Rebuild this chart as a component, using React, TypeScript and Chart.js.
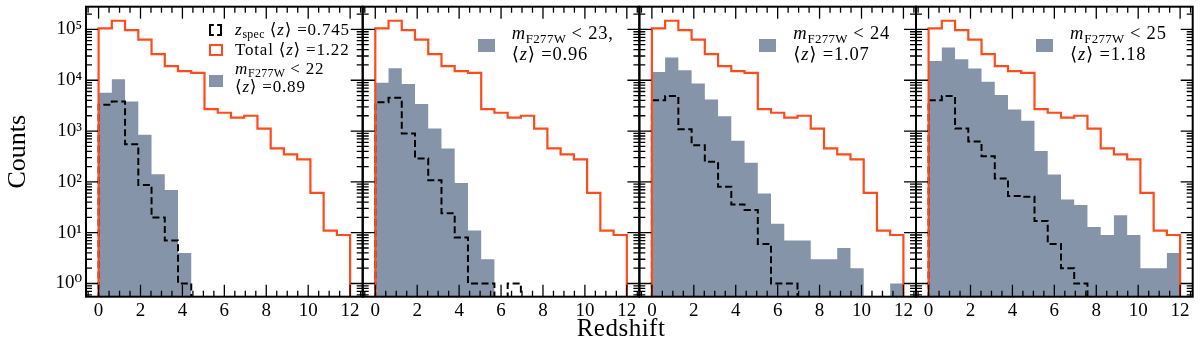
import React, { useEffect, useRef } from 'react';
import { Chart, registerables } from 'chart.js';

Chart.register(...registerables);

// ---------------- data ----------------
const BIN_EDGES = [
  0, 0.632, 1.263, 1.895, 2.526, 3.158, 3.789, 4.421, 5.053, 5.684,
  6.316, 6.947, 7.579, 8.211, 8.842, 9.474, 10.105, 10.737, 11.368, 12,
];

const TOTAL_COUNTS = [105000, 148000, 97000, 63000, 32700, 19000, 15100, 14000, 2700, 2290, 1830, 2000, 1120, 456, 348, 277, 61, 11, 9];

const PHOT_COUNTS_22 = [5700, 10400, 3800, 845, 142, 69, 4, 0, 0, 0, 0, 0, 0, 0, 0, 0, 0, 0, 0];
const PHOT_COUNTS_23 = [8900, 17300, 8400, 3400, 1120, 454, 95, 11, 3, 0, 0, 0, 0, 0, 0, 0, 0, 0, 0];
const PHOT_COUNTS_24 = [14600, 28000, 15800, 8600, 4200, 1960, 641, 237, 59, 15, 7, 7, 3, 3, 5, 2, 0, 0, 1];
const PHOT_COUNTS_25 = [23800, 44000, 26000, 17000, 9300, 5100, 2660, 1590, 407, 140, 45, 35, 13, 9, 22, 9, 2, 2, 4];

const SPEC_COUNTS_22 = [3300, 3800, 553, 87, 20, 7, 1, 0, 0, 0, 0, 0, 0, 0, 0, 0, 0, 0, 0];
const SPEC_COUNTS_23 = [3700, 4500, 897, 289, 108, 24, 8, 1, 1, 0, 1, 0, 0, 0, 0, 0, 0, 0, 0];
const SPEC_COUNTS_24 = [4060, 4900, 1090, 527, 248, 80, 36, 28, 6, 1, 1, 0, 0, 0, 0, 0, 0, 0, 0];
const SPEC_COUNTS_25 = [4060, 4900, 1120, 624, 321, 117, 53, 51, 17, 6, 2, 1, 0, 0, 0, 0, 0, 0, 0];

const MAG_CUTS = ['22', '23,', '24', '25'];
const MEAN_Z = ['0.89', '0.96', '1.07', '1.18'];
const SPEC_MEAN_Z = '0.745';
const TOTAL_MEAN_Z = '1.22';

const X_MAJOR_TICKS = [0, 2, 4, 6, 8, 10, 12];
const Y_DECADES = [1, 10, 100, 1000, 10000, 100000];
const SUP = ['\u2070', '\u00b9', '\u00b2', '\u00b3', '\u2074', '\u2075'];

const PHOT_SETS = [PHOT_COUNTS_22, PHOT_COUNTS_23, PHOT_COUNTS_24, PHOT_COUNTS_25];
const SPEC_SETS = [SPEC_COUNTS_22, SPEC_COUNTS_23, SPEC_COUNTS_24, SPEC_COUNTS_25];

// ---------------- style / layout ----------------
const FONT = "'Liberation Serif', 'DejaVu Serif', serif";
const COLOR_TOTAL = '#ff4a1a';
const COLOR_PHOT = '#8694aa';
const W = 1200;
const H = 352;
const PANEL_LEFT = [86, 362.7, 639.3, 916];
const PANEL_WIDTH = 276.7;
const PLOT_TOP = 6.7;
const PLOT_BOTTOM = 296.7;
const X_MIN = -0.6;
const X_MAX = 12.6;
const Y_MIN = 0.55;
const Y_MAX = 2.8e5;
const BELOW = 1e-3;

function histPoints(counts: number[]) {
  const v = (c: number) => (c > 0 ? c : BELOW);
  const last = BIN_EDGES.length - 1;
  const pts: { x: number; y: number }[] = [{ x: BIN_EDGES[0], y: BELOW }];
  counts.forEach((c, i) => pts.push({ x: BIN_EDGES[i], y: v(c) }));
  pts.push({ x: BIN_EDGES[last], y: v(counts[counts.length - 1]) });
  pts.push({ x: BIN_EDGES[last], y: BELOW });
  return pts;
}

const frameTicksPlugin = {
  id: 'frameTicks',
  afterDatasetsDraw(chart: any) {
    const { ctx, chartArea: a } = chart;
    const x = chart.scales.x;
    const y = chart.scales.y;
    ctx.save();
    ctx.strokeStyle = '#000';
    ctx.lineWidth = 1.3;
    ctx.beginPath();
    for (let v = -0.5; v <= 12.5; v += 0.5) {
      const px = x.getPixelForValue(v);
      const len = X_MAJOR_TICKS.includes(v) ? 12 : 6;
      ctx.moveTo(px, a.bottom);
      ctx.lineTo(px, a.bottom - len);
      ctx.moveTo(px, a.top);
      ctx.lineTo(px, a.top + len);
    }
    for (let k = -1; k <= 5; k++) {
      for (let m = 1; m <= 9; m++) {
        const v = m * Math.pow(10, k);
        if (v < Y_MIN || v > Y_MAX) continue;
        const py = y.getPixelForValue(v);
        const len = m === 1 ? 12 : 6;
        ctx.moveTo(a.left, py);
        ctx.lineTo(a.left + len, py);
        ctx.moveTo(a.right, py);
        ctx.lineTo(a.right - len, py);
      }
    }
    ctx.stroke();
    ctx.lineWidth = 2;
    ctx.strokeRect(a.left, a.top, a.right - a.left, a.bottom - a.top);
    ctx.restore();
  },
};

function zeroPad(s: any) {
  s.paddingTop = 0;
  s.paddingBottom = 0;
  s.paddingLeft = 0;
  s.paddingRight = 0;
}

function Panel({ index }: { index: number }) {
  const ref = useRef<HTMLCanvasElement>(null);
  useEffect(() => {
    const canvas = ref.current;
    if (!canvas) return;
    const left = PANEL_LEFT[index];
    const right = left + PANEL_WIDTH;
    const first = index === 0;
    const chart = new Chart(canvas, {
      type: 'line',
      data: {
        datasets: [
          {
            label: 'Total',
            data: histPoints(TOTAL_COUNTS),
            stepped: 'before',
            borderColor: COLOR_TOTAL,
            borderWidth: 2.2,
            pointRadius: 0,
            fill: false,
            order: 0,
          },
          {
            label: 'spec',
            data: histPoints(SPEC_SETS[index]),
            stepped: 'before',
            borderColor: '#000',
            borderWidth: 2,
            borderDash: [7, 3.5],
            pointRadius: 0,
            fill: false,
            order: 1,
          },
          {
            label: 'phot',
            data: histPoints(PHOT_SETS[index]),
            stepped: 'before',
            borderColor: 'rgba(0,0,0,0)',
            borderWidth: 0,
            backgroundColor: COLOR_PHOT,
            fill: 'start',
            pointRadius: 0,
            order: 2,
          },
        ],
      } as any,
      options: {
        animation: false,
        responsive: false,
        devicePixelRatio: 1,
        layout: {
          autoPadding: false,
          padding: { left: first ? 0 : left, right: W - right, top: PLOT_TOP, bottom: 0 },
        },
        plugins: { legend: { display: false }, tooltip: { enabled: false } },
        scales: {
          x: {
            type: 'linear',
            min: X_MIN,
            max: X_MAX,
            grid: { display: false, drawTicks: false },
            border: { display: false },
            afterBuildTicks: (s: any) => {
              s.ticks = X_MAJOR_TICKS.map((v) => ({ value: v }));
            },
            afterFit: (s: any) => {
              s.height = H - PLOT_BOTTOM;
              zeroPad(s);
            },
            ticks: {
              font: { family: FONT, size: 19 },
              color: '#000',
              padding: 3,
              maxRotation: 0,
              autoSkip: false,
              callback: (v: any) => String(v),
            },
          },
          y: {
            type: 'logarithmic',
            min: Y_MIN,
            max: Y_MAX,
            grid: { display: false, drawTicks: false },
            border: { display: false },
            afterBuildTicks: (s: any) => {
              s.ticks = Y_DECADES.map((v) => ({ value: v }));
            },
            afterFit: (s: any) => {
              s.width = first ? PANEL_LEFT[0] : 0;
              zeroPad(s);
            },
            ticks: {
              display: first,
              font: { family: FONT, size: 19 },
              color: '#000',
              padding: 4,
              callback: (v: any) => '10' + SUP[Math.round(Math.log10(Number(v)))],
            },
            title: {
              display: first,
              text: 'Counts',
              font: { family: FONT, size: 26 },
              color: '#000',
              padding: { top: 3, bottom: 0 },
            },
          },
        },
      } as any,
      plugins: [frameTicksPlugin],
    });
    return () => chart.destroy();
  }, [index]);
  return (
    <canvas
      ref={ref}
      width={W}
      height={H}
      style={{ position: 'absolute', left: 0, top: 0, width: W, height: H }}
    />
  );
}

function TextLine({ left, baseline, size, children }: { left: number; baseline: number; size: number; children: any }) {
  return (
    <div
      style={{
        position: 'absolute',
        left,
        top: baseline - 0.8375 * size,
        fontFamily: FONT,
        fontSize: size,
        lineHeight: `${size}px`,
        letterSpacing: '0.8px',
        whiteSpace: 'nowrap',
        color: '#000',
      }}
    >
      {children}
    </div>
  );
}

const Sub = ({ children }: { children: any }) => (
  <span style={{ fontSize: '0.7em', verticalAlign: '-0.28em', lineHeight: 0, letterSpacing: '0.3px' }}>{children}</span>
);

function Legends() {
  const L2_HANDLE = [0, 477.7, 759, 1035.7];
  const L2_TEXT = [0, 511.7, 793.3, 1070];
  return (
    <>
      {/* panel 1 legend */}
      <div style={{ position: 'absolute', left: 208.5, top: 24, width: 13, height: 11.5, border: '2px dashed #000', boxSizing: 'border-box' }} />
      <div style={{ position: 'absolute', left: 208.5, top: 44, width: 14.5, height: 11.5, border: `2px solid ${COLOR_TOTAL}`, boxSizing: 'border-box' }} />
      <div style={{ position: 'absolute', left: 209, top: 75, width: 14.3, height: 12.3, background: COLOR_PHOT }} />
      <TextLine left={235} baseline={35} size={17}>
        <i>z</i><Sub>spec</Sub> {'\u27e8'}<i>z</i>{'\u27e9'} ={SPEC_MEAN_Z}
      </TextLine>
      <TextLine left={235} baseline={55} size={17}>
        Total {'\u27e8'}<i>z</i>{'\u27e9'} ={TOTAL_MEAN_Z}
      </TextLine>
      <TextLine left={235} baseline={74} size={17}>
        <i>m</i><Sub>F277W</Sub> &lt; {MAG_CUTS[0]}
      </TextLine>
      <TextLine left={235} baseline={92.7} size={17}>
        {'\u27e8'}<i>z</i>{'\u27e9'} ={MEAN_Z[0]}
      </TextLine>
      {[1, 2, 3].map((i) => (
        <React.Fragment key={i}>
          <div style={{ position: 'absolute', left: L2_HANDLE[i], top: 39, width: 17.3, height: 12.7, background: COLOR_PHOT }} />
          <TextLine left={L2_TEXT[i]} baseline={39.3} size={18.5}>
            <i>m</i><Sub>F277W</Sub> &lt; {MAG_CUTS[i]}
          </TextLine>
          <TextLine left={L2_TEXT[i]} baseline={60.7} size={18.5}>
            {'\u27e8'}<i>z</i>{'\u27e9'} ={MEAN_Z[i]}
          </TextLine>
        </React.Fragment>
      ))}
    </>
  );
}

export default function App() {
  return (
    <div style={{ position: 'fixed', left: 0, top: 0, width: W, height: H, background: '#fff', overflow: 'hidden' }}>
      {[0, 1, 2, 3].map((i) => (
        <Panel key={i} index={i} />
      ))}
      <Legends />
      <div
        style={{
          position: 'absolute',
          left: 621,
          top: 336 - 0.8375 * 25,
          transform: 'translateX(-50%)',
          fontFamily: FONT,
          fontSize: 25,
          lineHeight: '25px',
          letterSpacing: '0.5px',
          whiteSpace: 'nowrap',
          color: '#000',
        }}
      >
        Redshift
      </div>
    </div>
  );
}
